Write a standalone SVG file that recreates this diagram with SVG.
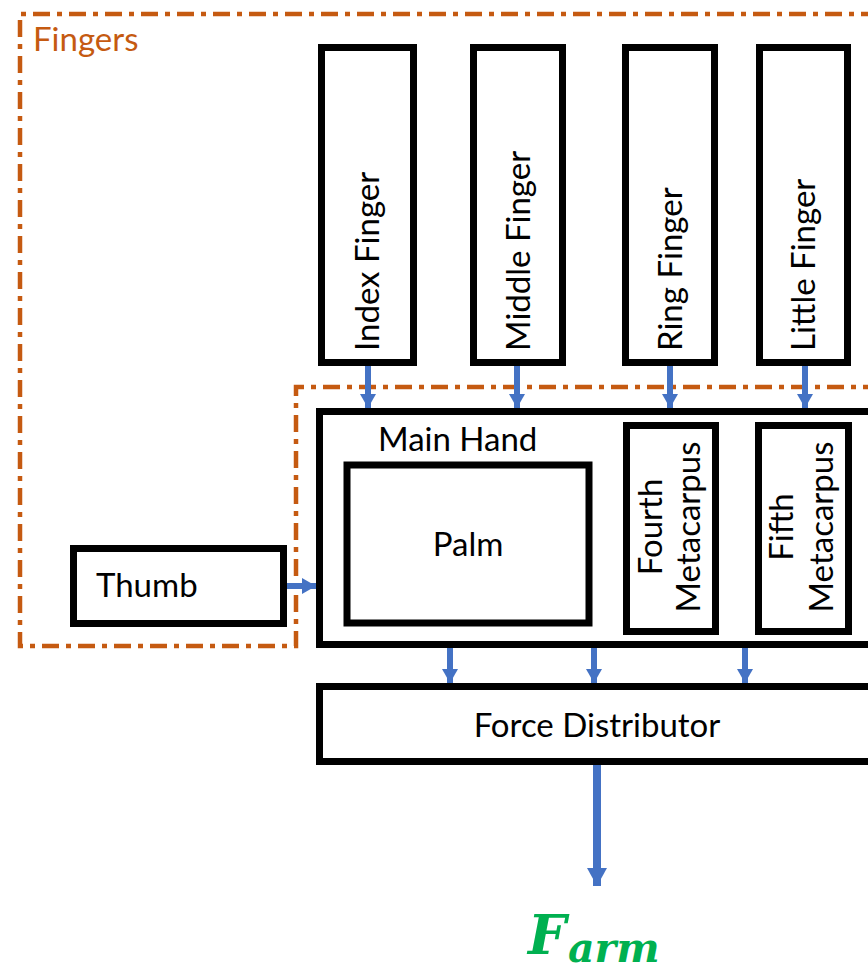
<svg xmlns="http://www.w3.org/2000/svg" width="868" height="973" viewBox="0 0 868 973">
  <defs>
    <style>
      .box{fill:#fff;stroke:#000;stroke-width:7}
      .lbl{font-family:Lato,"Liberation Sans",sans-serif;font-size:33px;fill:#000}
      .grp{fill:none;stroke:#C55A11;stroke-width:4.5;stroke-dasharray:17 7 5 7}
      .grp-lbl{font-family:Lato,"Liberation Sans",sans-serif;font-size:33px;fill:#C55A11}
      .wire{stroke:#4472C4;stroke-width:6;fill:none}
      .wire-big{stroke:#4472C4;stroke-width:8;fill:none}
      .math{font-family:"DejaVu Serif","Liberation Serif",serif;font-weight:bold;font-style:italic;fill:#00B050}
    </style>
    <marker id="ah" viewBox="0 0 14 16" refX="14" refY="8" markerWidth="14" markerHeight="16" markerUnits="userSpaceOnUse" orient="auto">
      <path d="M0,0 L14,8 L0,16 z" fill="#4472C4"/>
    </marker>
    <marker id="ah-big" viewBox="0 0 18 20" refX="18" refY="10" markerWidth="18" markerHeight="20" markerUnits="userSpaceOnUse" orient="auto">
      <path d="M0,0 L18,10 L0,20 z" fill="#4472C4"/>
    </marker>
  </defs>

  <rect width="868" height="973" fill="#fff"/>

  <!-- Fingers grouping outline -->
  <g id="fingers-group">
    <path class="grp" d="M880,387 H296 V646 H20 V14 H880"/>
    <text class="grp-lbl" x="33" y="51">Fingers</text>
  </g>

  <!-- Finger boxes -->
  <g id="index-finger">
    <rect class="box" x="321.5" y="47.5" width="92" height="315"/>
    <text class="lbl" transform="translate(379,351) rotate(-90)">Index Finger</text>
  </g>
  <g id="middle-finger">
    <rect class="box" x="473.5" y="47.5" width="89" height="315"/>
    <text class="lbl" transform="translate(529.5,351) rotate(-90)">Middle Finger</text>
  </g>
  <g id="ring-finger">
    <rect class="box" x="625.5" y="47.5" width="89" height="315"/>
    <text class="lbl" transform="translate(681.5,351) rotate(-90)">Ring Finger</text>
  </g>
  <g id="little-finger">
    <rect class="box" x="759.5" y="47.5" width="88" height="315"/>
    <text class="lbl" transform="translate(815,351) rotate(-90)">Little Finger</text>
  </g>

  <!-- Thumb -->
  <g id="thumb">
    <rect class="box" x="73.5" y="548.5" width="210" height="75"/>
    <text class="lbl" x="96" y="597">Thumb</text>
  </g>

  <!-- Main hand container and its parts -->
  <g id="main-hand">
    <rect class="box" x="319.5" y="411.5" width="580" height="233"/>
    <text class="lbl" x="378" y="451">Main Hand</text>
  </g>
  <g id="palm">
    <rect class="box" x="347" y="465" width="242" height="158"/>
    <text class="lbl" x="468" y="556" text-anchor="middle">Palm</text>
  </g>
  <g id="fourth-metacarpus">
    <rect class="box" x="626.5" y="425.5" width="89" height="206"/>
    <text class="lbl" text-anchor="middle" transform="translate(662,527) rotate(-90)">Fourth</text>
    <text class="lbl" text-anchor="middle" transform="translate(700,527) rotate(-90)">Metacarpus</text>
  </g>
  <g id="fifth-metacarpus">
    <rect class="box" x="758.5" y="425.5" width="90" height="206"/>
    <text class="lbl" text-anchor="middle" transform="translate(793,527) rotate(-90)">Fifth</text>
    <text class="lbl" text-anchor="middle" transform="translate(833,527) rotate(-90)">Metacarpus</text>
  </g>

  <!-- Force distributor -->
  <g id="force-distributor">
    <rect class="box" x="319.5" y="686.5" width="580" height="75"/>
    <text class="lbl" x="597" y="737" text-anchor="middle">Force Distributor</text>
  </g>

  <!-- Output force -->
  <g id="f-arm">
    <text class="math" x="528" y="954" font-size="54">F</text>
    <text class="math" x="568" y="962" font-size="41">arm</text>
  </g>

  <!-- Connectors -->
  <g id="connectors">
    <line class="wire" x1="368" y1="366" x2="368" y2="408" marker-end="url(#ah)"/>
    <line class="wire" x1="517" y1="366" x2="517" y2="408" marker-end="url(#ah)"/>
    <line class="wire" x1="670" y1="366" x2="670" y2="408" marker-end="url(#ah)"/>
    <line class="wire" x1="805" y1="366" x2="805" y2="408" marker-end="url(#ah)"/>
    <line class="wire" x1="287" y1="586" x2="316" y2="586" marker-end="url(#ah)"/>
    <line class="wire" x1="450" y1="648" x2="450" y2="683" marker-end="url(#ah)"/>
    <line class="wire" x1="594" y1="648" x2="594" y2="683" marker-end="url(#ah)"/>
    <line class="wire" x1="745" y1="648" x2="745" y2="683" marker-end="url(#ah)"/>
    <line class="wire-big" x1="597" y1="765" x2="597" y2="886" marker-end="url(#ah-big)"/>
  </g>
</svg>
